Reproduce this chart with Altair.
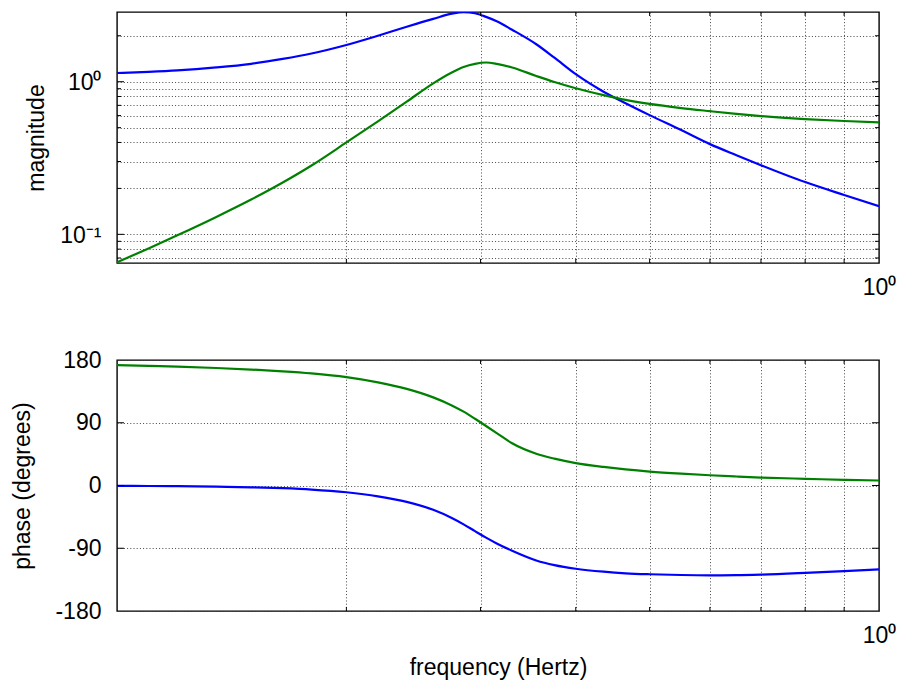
import altair as alt
import pandas as pd

# ---- data (frequency in Hertz) ----
freq = [0.10, 0.11, 0.12, 0.135, 0.15, 0.165, 0.18, 0.20, 0.22, 0.24, 0.26, 0.275,
        0.285, 0.295, 0.305, 0.315, 0.33, 0.355, 0.375, 0.40, 0.435, 0.465, 0.50,
        0.55, 0.60, 0.65, 0.70, 0.80, 0.90, 1.00]
mag_blue = [1.14, 1.16, 1.185, 1.24, 1.31, 1.41, 1.53, 1.74, 2.00, 2.29, 2.58, 2.79,
            2.86, 2.81, 2.66, 2.49, 2.19, 1.76, 1.436, 1.12, 0.86, 0.723, 0.604,
            0.482, 0.390, 0.330, 0.284, 0.220, 0.181, 0.153]
mag_green = [0.0656, 0.0808, 0.0985, 0.130, 0.169, 0.2185, 0.2825, 0.400, 0.55, 0.74, 0.976, 1.15,
             1.25, 1.31, 1.336, 1.31, 1.24, 1.09, 0.995, 0.906, 0.817, 0.760, 0.715,
             0.672, 0.641, 0.615, 0.595, 0.569, 0.553, 0.542]
phase_blue = [-0.4, -0.7, -1.0, -1.7, -2.6, -3.9, -5.8, -9.7, -15.5, -23.4, -34.9, -46.6,
              -55.7, -65.5, -74.8, -83.1, -93.6, -107.5, -114.2, -119.4, -123.6, -125.9, -127.3,
              -128.4, -128.8, -128.6, -127.8, -125.3, -122.7, -120.2]
phase_green = [172.7, 171.6, 170.4, 168.5, 166.3, 163.8, 160.8, 155.5, 148.0, 138.6, 126.4, 114.9,
               105.9, 95.7, 85.3, 75.2, 60.5, 45.5, 38.5, 32.2, 26.6, 23.0, 19.9,
               16.9, 14.7, 12.9, 11.4, 9.6, 8.2, 7.2]

series = ["blue", "green"]
colors = ["#0000ff", "#008000"]

x_grid = [0.2, 0.3, 0.4, 0.5, 0.6, 0.7, 0.8, 0.9, 1.0]
mag_grid = [0.07, 0.08, 0.09, 0.1, 0.2, 0.3, 0.4, 0.5, 0.6, 0.7, 0.8, 0.9, 1.0, 2.0]
mag_major = [0.1, 1.0]
mag_minor = [0.07, 0.08, 0.09, 0.2, 0.3, 0.4, 0.5, 0.6, 0.7, 0.8, 0.9, 2.0]
phase_ticks = [-180, -90, 0, 90, 180]
phase_major = [-90, 0, 90]
x_minor = [0.2, 0.3, 0.4, 0.5, 0.6, 0.7, 0.8, 0.9]

rows = []
for i, f in enumerate(freq):
    rows.append({"freq": f, "mag": mag_blue[i], "phase": phase_blue[i], "series": "blue"})
    rows.append({"freq": f, "mag": mag_green[i], "phase": phase_green[i], "series": "green"})
df = pd.DataFrame(rows)

FONT = "Liberation Sans"
FS = 23
W, H = 762, 251
MAJ, MIN = 7, 4

xscale = alt.Scale(type="log", domain=[0.1, 1.0], nice=False)
mag_scale = alt.Scale(type="log", domain=[0.0649, 2.862], nice=False, zero=False)
ph_scale = alt.Scale(domain=[-180, 180], nice=False, zero=False)


def x_axis(title):
    kw = dict(values=x_grid, labelExpr="datum.value == 1 ? '10⁰' : ''", grid=True,
              ticks=False, domain=False, labelOverlap=False, labelFlush=False,
              labelPadding=13, labelBaseline="top")
    if title:
        return alt.Axis(title=title, titlePadding=9, **kw)
    return alt.Axis(title=None, **kw)


mag_axis = alt.Axis(values=mag_grid, title="magnitude", grid=True, ticks=False, domain=False,
                    labelOverlap=False, labelPadding=16, titlePadding=11, labelOffset=1,
                    labelExpr="datum.value == 1 ? '10⁰' : (datum.value == 0.1 ? '10⁻¹' : '')")
ph_axis = alt.Axis(values=phase_ticks, title="phase (degrees)", grid=True, ticks=False,
                   domain=False, labelOverlap=False, labelPadding=16, titlePadding=20,
                   labelExpr="toString(datum.value)")

color = alt.Color("series:N", scale=alt.Scale(domain=series, range=colors), legend=None)


def panel(yfield, yscale, yaxis, xaxis, ymajor, yminor):
    lines = alt.Chart(df).mark_line(strokeWidth=2.2, interpolate="monotone", clip=True).encode(
        x=alt.X("freq:Q", scale=xscale, axis=xaxis),
        y=alt.Y(f"{yfield}:Q", scale=yscale, axis=yaxis),
        color=color,
        detail="series:N",
    )
    layers = [lines]
    for vals, ln in ((ymajor, MAJ), (yminor, MIN)):
        if not vals:
            continue
        d = pd.DataFrame({"v": vals})
        y = alt.Y("v:Q", scale=yscale, axis=yaxis)
        layers.append(alt.Chart(d).mark_rule(color="black", strokeWidth=1).encode(
            y=y, x=alt.value(0), x2=alt.value(ln)))
        layers.append(alt.Chart(d).mark_rule(color="black", strokeWidth=1).encode(
            y=y, x=alt.value(W), x2=alt.value(W - ln)))
    dx = pd.DataFrame({"v": x_minor})
    xx = alt.X("v:Q", scale=xscale, axis=xaxis)
    layers.append(alt.Chart(dx).mark_rule(color="black", strokeWidth=1).encode(
        x=xx, y=alt.value(0), y2=alt.value(MIN)))
    layers.append(alt.Chart(dx).mark_rule(color="black", strokeWidth=1).encode(
        x=xx, y=alt.value(H), y2=alt.value(H - MIN)))
    return alt.layer(*layers).properties(width=W, height=H)


top = panel("mag", mag_scale, mag_axis, x_axis(None), mag_major, mag_minor)
bottom = panel("phase", ph_scale, ph_axis, x_axis("frequency (Hertz)"), phase_major, [])

chart = alt.vconcat(top, bottom, spacing=48).properties(
    padding={"left": 11, "top": 10, "right": 0, "bottom": 0},
    background="white",
).configure_view(
    stroke="black", strokeWidth=1.4
).configure_axis(
    labelFont=FONT, titleFont=FONT, labelFontSize=FS, titleFontSize=FS,
    labelColor="black", titleColor="black", titleFontWeight="normal",
    gridColor="#333333", gridDash=[1, 2.2], gridWidth=1, gridOpacity=0.9,
)

chart.save("out.html", embed_options={"renderer": "svg", "actions": False})
